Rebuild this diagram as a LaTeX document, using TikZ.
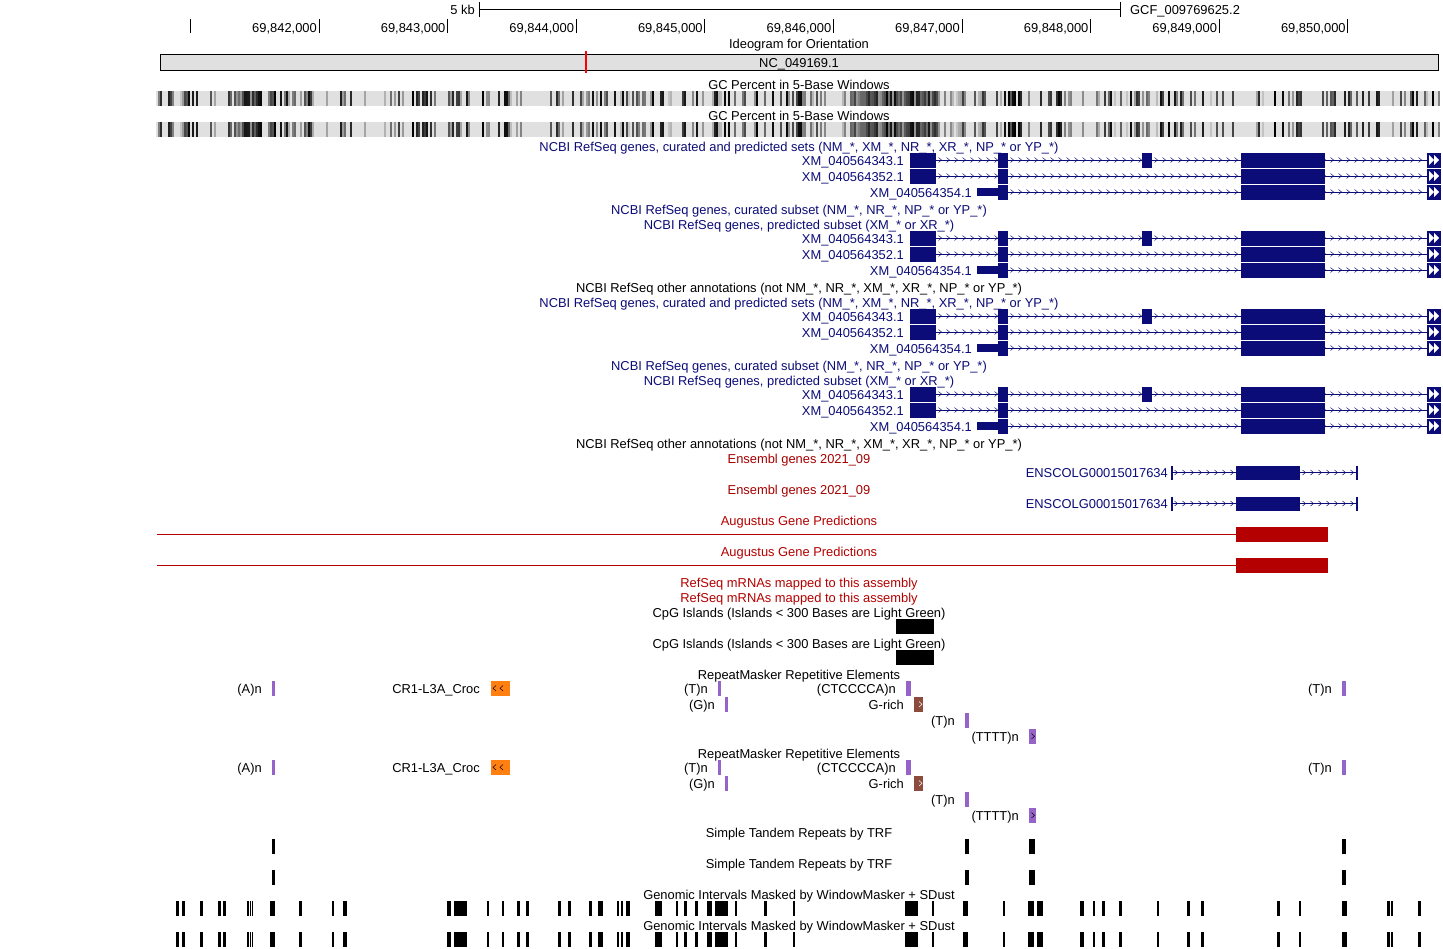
\documentclass[tikz,border=0pt]{standalone}
\usepackage{fontspec}
\setmainfont{Liberation Sans}
\definecolor{refblue}{RGB}{12,12,120}
\definecolor{ensred}{RGB}{165,0,0}
\definecolor{augred}{RGB}{180,0,0}
\definecolor{rmpurple}{RGB}{150,100,200}
\definecolor{rmorange}{RGB}{255,128,16}
\definecolor{rmbrown}{RGB}{140,75,60}
\definecolor{ideogray}{RGB}{224,224,224}

\tikzset{
  lbl/.style={font=\fontsize{12.9}{14}\selectfont, inner sep=0pt, text height=9pt, text depth=0pt, yshift=-0.7pt},
  reflbl/.style={lbl, text=refblue},
  ruletick/.style={line width=1pt},
}

% intron with chevrons: colour, y, x from, x to
\newcommand{\intronline}[4]{%
  \draw[#1] (#3,#2)--(#4,#2);
  \pgfmathtruncatemacro{\nchev}{(#4-#3-6)/8}
  \foreach \k in {0,...,\nchev}
    \draw[#1,line width=0.5pt] ({#3+4+8*\k-1.5},{#2-2.5})--++(3,2.5)--++(-3,2.5);
}
% filled exon: y, x from, x to, half height
\newcommand{\exon}[4]{\fill[refblue] (#2,{#1-#4}) rectangle (#3,{#1+#4});}
% box with two white arrows at the right edge
\newcommand{\tailarrows}[1]{%
  \fill[refblue] (1427,{#1-7.5}) rectangle (1441,{#1+7.5});
  \fill[white] (1429,{#1-5})--(1434,#1)--(1429,{#1+5})--cycle;
  \fill[white] (1434,{#1-5})--(1439,#1)--(1434,{#1+5})--cycle;
}
% the three XM transcripts, first one at y = #1
\newcommand{\xmgenes}[2]{%
  \node[reflbl,anchor=east] (xma#2) at (904,#1) {XM\_040564343.1};
  \node[reflbl,anchor=east] (xmb#2) at (904,{#1+16}) {XM\_040564352.1};
  \node[reflbl,anchor=east] (xmc#2) at (972,{#1+32}) {XM\_040564354.1};
  \intronline{refblue}{#1}{936}{1427}
  \intronline{refblue}{#1+16}{936}{1427}
  \intronline{refblue}{#1+32}{1008}{1427}
  \exon{#1}{910}{936}{7.5}\exon{#1}{998}{1008}{7.5}
  \exon{#1}{1142}{1152}{7.5}\exon{#1}{1241}{1325}{7.5}
  \exon{#1+16}{910}{936}{7.5}\exon{#1+16}{998}{1008}{7.5}
  \exon{#1+16}{1241}{1325}{7.5}
  \exon{#1+32}{977}{998}{4}\exon{#1+32}{998}{1008}{7.5}
  \exon{#1+32}{1241}{1325}{7.5}
  \tailarrows{#1}\tailarrows{#1+16}\tailarrows{#1+32}
}
% one RefSeq track group shifted by #1
\newcommand{\refblock}[2]{%
  \node[reflbl] (allsets#2) at (799,{146+#1}) {NCBI RefSeq genes, curated and predicted sets (NM\_*, XM\_*, NR\_*, XR\_*, NP\_* or YP\_*)};
  \xmgenes{160+#1}{p#2}
  \node[reflbl] (curated#2) at (799,{209+#1}) {NCBI RefSeq genes, curated subset (NM\_*, NR\_*, NP\_* or YP\_*)};
  \node[reflbl] (predicted#2) at (799,{224+#1}) {NCBI RefSeq genes, predicted subset (XM\_* or XR\_*)};
  \xmgenes{238+#1}{q#2}
  \node[lbl] (other#2) at (799,{287+#1}) {NCBI RefSeq other annotations (not NM\_*, NR\_*, XM\_*, XR\_*, NP\_* or YP\_*)};
}
% Ensembl transcript at y = #1
\newcommand{\ensgene}[2]{%
  \node[reflbl,anchor=east] (ens#2) at (1168,#1) {ENSCOLG00015017634};
  \draw[refblue] (1172,#1)--(1357,#1);
  \foreach \c in {1176,1184,...,1352}
    \draw[refblue,line width=0.5pt] (\c-1.5,{#1-2.5})--++(3,2.5)--++(-3,2.5);
  \draw[refblue,line width=1.2pt] (1172,{#1-7}) -- (1172,{#1+7});
  \draw[refblue,line width=1.2pt] (1357,{#1-7}) -- (1357,{#1+7});
  \exon{#1}{1236}{1300}{7}
}
% RepeatMasker rows shifted by #1
\newcommand{\rmrows}[2]{%
  \node[lbl] (rmsk#2) at (799,{674+#1}) {RepeatMasker Repetitive Elements};
  \node[lbl,anchor=east] (an#2) at (262,{688+#1}) {(A)n};
  \fill[rmpurple] (272,{681+#1}) rectangle (275,{695.5+#1});
  \node[lbl,anchor=east] (croc#2) at (480,{688+#1}) {CR1-L3A\_Croc};
  \fill[rmorange] (491,{681+#1}) rectangle (510,{695.5+#1});
  \draw[line width=0.5pt] (496,{685.5+#1})--(493,{688.3+#1})--(496,{691+#1});
  \draw[line width=0.5pt] (503,{685.5+#1})--(500,{688.3+#1})--(503,{691+#1});
  \node[lbl,anchor=east] (tna#2) at (708,{688+#1}) {(T)n};
  \fill[rmpurple] (718,{681+#1}) rectangle (721,{695.5+#1});
  \node[lbl,anchor=east] (ctc#2) at (896,{688+#1}) {(CTCCCCA)n};
  \fill[rmpurple] (906,{681+#1}) rectangle (911,{695.5+#1});
  \node[lbl,anchor=east] (tnr#2) at (1332,{688+#1}) {(T)n};
  \fill[rmpurple] (1342,{681+#1}) rectangle (1346,{695.5+#1});
  \node[lbl,anchor=east] (gn#2) at (715,{704+#1}) {(G)n};
  \fill[rmpurple] (725,{697+#1}) rectangle (728,{711.5+#1});
  \node[lbl,anchor=east] (grich#2) at (904,{704+#1}) {G-rich};
  \fill[rmbrown] (914,{697+#1}) rectangle (923,{711.5+#1});
  \draw[white,line width=0.5pt] (919,{701.5+#1})--(922,{704.3+#1})--(919,{707+#1});
  \node[lbl,anchor=east] (tnb#2) at (955,{720+#1}) {(T)n};
  \fill[rmpurple] (965,{713+#1}) rectangle (969,{727.5+#1});
  \node[lbl,anchor=east] (tttt#2) at (1019,{736+#1}) {(TTTT)n};
  \fill[rmpurple] (1029,{729+#1}) rectangle (1036,{743.5+#1});
  \draw[line width=0.5pt] (1031.5,{733.5+#1})--(1034.5,{736.3+#1})--(1031.5,{739+#1});
}

\begin{document}
\begin{tikzpicture}[x=1pt,y=-1pt]
  \fill[white] (0,0) rectangle (1443,948);
  \useasboundingbox (0,0) rectangle (1443,948);
  % scale bar and base ruler
  \node[lbl,anchor=east] (kb) at (475,9) {5 kb};
  \draw (479,9)--(1120,9);
  \draw[ruletick] (479,2)--(479,17);
  \draw[ruletick] (1120,2)--(1120,17);
  \node[lbl,anchor=west] (asm) at (1130,9) {GCF\_009769625.2};
  \draw[ruletick] (190,19)--(190,33);
  \foreach \i in {0,...,8}
    \draw[ruletick] ({319+128.6*\i},19)--({319+128.6*\i},33);
  \foreach \i in {2,...,9}
    \node[lbl,anchor=east] (pos\i) at ({317+128.6*(\i-2)},27) {69,84\i,000};
  \node[lbl,anchor=east] (pos10) at ({317+128.6*8},27) {69,850,000};
  % ideogram
  \node[lbl] (ideo) at (799,43) {Ideogram for Orientation};
  \draw[fill=ideogray] (160,54) rectangle (1438,70);
  \node[lbl] (chrom) at (799,62) {NC\_049169.1};
  \draw[red,line width=2pt] (586,51)--(586,73);
  % GC percent
  \node[lbl] (gca) at (799,84) {GC Percent in 5-Base Windows};
  \node[lbl] (gcb) at (799,115) {GC Percent in 5-Base Windows};
  \pgfmathsetseed{7}
  \foreach \x in {156,158,...,1439}{
    \pgfmathsetmacro\gcval{((\x>232)&&(\x<262))||((\x>848)&&(\x<936)) ? 40+60*rnd : (rnd<0.55 ? 12 : (rnd<0.5 ? 65+35*rnd : 22+40*rnd))}
    \fill[black!\gcval] (\x,91) rectangle ++(2,14.5);
    \fill[black!\gcval] (\x,122) rectangle ++(2,14.5);
  }
  % RefSeq groups
  \refblock{0}{a}
  \refblock{156}{b}
  % Ensembl
  \node[lbl,text=ensred] (ensa) at (799,458) {Ensembl genes 2021\_09};
  \ensgene{472.5}{a}
  \node[lbl,text=ensred] (ensb) at (799,489) {Ensembl genes 2021\_09};
  \ensgene{503.5}{b}
  % Augustus
  \node[lbl,text=augred] (auga) at (799,520) {Augustus Gene Predictions};
  \draw[augred] (157,534.5)--(1236,534.5);
  \fill[augred] (1236,527) rectangle (1328,542);
  \node[lbl,text=augred] (augb) at (799,551) {Augustus Gene Predictions};
  \draw[augred] (157,565.5)--(1236,565.5);
  \fill[augred] (1236,558) rectangle (1328,573);
  % mRNAs and CpG
  \node[lbl,text=augred] (mrnaa) at (799,582) {RefSeq mRNAs mapped to this assembly};
  \node[lbl,text=augred] (mrnab) at (799,597) {RefSeq mRNAs mapped to this assembly};
  \node[lbl] (cpga) at (799,612) {CpG Islands (Islands < 300 Bases are Light Green)};
  \fill (896,619) rectangle (934,634);
  \node[lbl] (cpgb) at (799,643) {CpG Islands (Islands < 300 Bases are Light Green)};
  \fill (896,650) rectangle (934,665);
  % RepeatMasker
  \rmrows{0}{a}
  \rmrows{79}{b}
  % TRF
  \node[lbl] (trfa) at (799,832) {Simple Tandem Repeats by TRF};
  \node[lbl] (trfb) at (799,863) {Simple Tandem Repeats by TRF};
  \foreach \a/\b in {272/275,965/969,1029/1035,1342/1346}{
    \fill (\a,839) rectangle (\b,854);
    \fill (\a,870) rectangle (\b,885);
  }
  % WindowMasker
  \node[lbl] (wma) at (799,894) {Genomic Intervals Masked by WindowMasker + SDust};
  \node[lbl] (wmb) at (799,925) {Genomic Intervals Masked by WindowMasker + SDust};
  \foreach \a/\b in {176/178.5,182/185,200/203,218/221,223/226,247/248.5,249.5/250.7,251.5/252.7,
      270/275,299/302,332/334,343/347,447/451,454/467,487/489,502/504,517/520,526/529,
      558/561,568/571,589/592,598/603,617/619,621/623,626/630,655/662,676/678,684/687,
      695/698,707/712,715/728,735/737,764/767,793/795,905/918,932/933.5,963/968,1003/1005,
      1028/1034,1037/1043,1080/1084,1093/1094.5,1102/1105,1119/1122,1157/1159,1187/1190,
      1201/1204,1277/1280,1299/1301,1342/1347,1387/1390,1391/1393,1418/1421}{
    \fill (\a,901) rectangle (\b,916);
    \fill (\a,932) rectangle (\b,947);
  }
\end{tikzpicture}
\end{document}
